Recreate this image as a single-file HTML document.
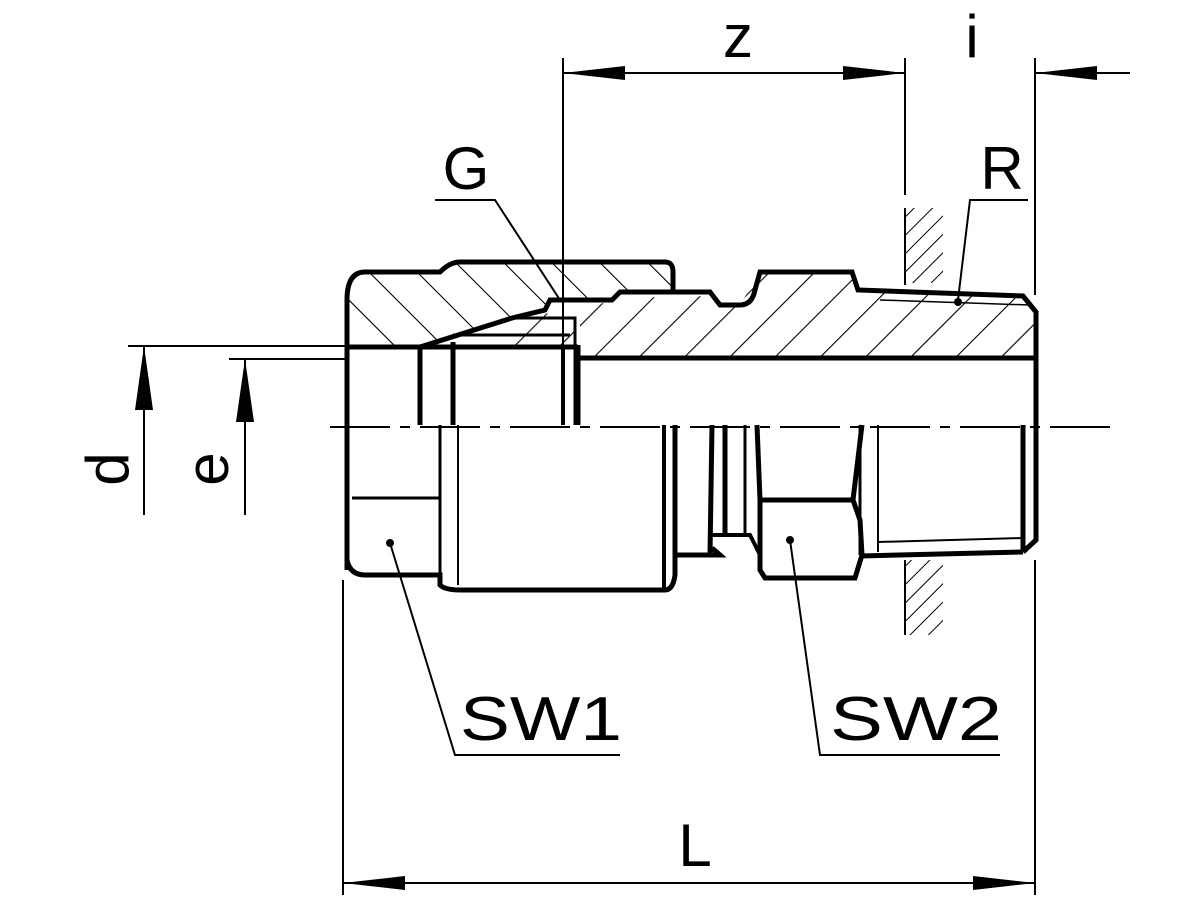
<!DOCTYPE html>
<html><head><style>body{margin:0;background:#fff}svg{display:block}text{font-family:"Liberation Sans",sans-serif;fill:#000}</style></head>
<body>
<svg width="1200" height="900" viewBox="0 0 1200 900" xmlns="http://www.w3.org/2000/svg">
<defs>
<pattern id="h" width="32" height="32" patternUnits="userSpaceOnUse" patternTransform="rotate(45)">
<line x1="0" y1="0" x2="0" y2="32" stroke="#000" stroke-width="2.2"/></pattern>
<pattern id="h2" width="34" height="34" patternUnits="userSpaceOnUse" patternTransform="rotate(-45)">
<line x1="0" y1="0" x2="0" y2="34" stroke="#000" stroke-width="2.2"/></pattern>
<pattern id="w" width="13" height="13" patternUnits="userSpaceOnUse" patternTransform="rotate(45)">
<line x1="0" y1="0" x2="0" y2="13" stroke="#000" stroke-width="2"/></pattern>
</defs>
<g stroke="#000" fill="none">
<path d="M347,300 Q347,272 365,272 L440,272 L455,262 L665,262 Q673,262 673,272 L673,292 L620,292 L612,300 L550,300 L545,310 L512,318 L420,347 L347,347 Z" fill="url(#h2)" stroke="none"/>
<path d="M512,318 L575,310 L575,347 L490,347 Z" fill="url(#h)" stroke="none"/>
<path d="M580,310 L620,298 L710,296 L720,305 L740,305 L760,272 L852,272 L858,290 L1023,296 L1036,312 L1036,358 L580,358 Z" fill="url(#h)" stroke="none"/>
<path d="M347,570 L347,300 Q347,272 365,272 L440,272 Q450,262 460,262 L665,262 Q673,262 673,272 L673,292" stroke-width="5"/>
<path d="M347,347 L420,347 L512,318 L545,310 L550,300 L612,300 L620,292 L710,292 L720,305 L740,305 Q752,305 755,290 L760,272 L852,272 L858,290 L1023,296 L1036,312 L1036,540 L1023,552" stroke-width="5"/>
<line x1="347" y1="347" x2="578" y2="347" stroke-width="5"/>
<line x1="575" y1="358" x2="1036" y2="358" stroke-width="5"/>
<path d="M512,318 L575,318 L575,347" stroke-width="3"/>
<line x1="420" y1="347" x2="420" y2="425" stroke-width="5"/>
<line x1="453" y1="342" x2="453" y2="425" stroke-width="5"/>
<line x1="563" y1="347" x2="563" y2="425" stroke-width="4"/>
<line x1="577" y1="345" x2="577" y2="425" stroke-width="7"/>
<line x1="453" y1="335" x2="570" y2="335" stroke-width="3"/>
<path d="M347,425 L347,560 Q350,575 365,575 L440,575 L440,585 Q445,590 460,590 L665,590 Q673,590 675,575 L675,425" stroke-width="5"/>
<line x1="352" y1="498" x2="440" y2="498" stroke-width="3"/>
<line x1="440" y1="425" x2="440" y2="585" stroke-width="3"/>
<line x1="458" y1="425" x2="458" y2="585" stroke-width="2"/>
<line x1="664" y1="425" x2="664" y2="588" stroke-width="4"/>
<path d="M675,425 L675,555 L710,555 L712,425 M712,548 L720,555 L712,555" stroke-width="5"/>
<line x1="725" y1="425" x2="725" y2="535" stroke-width="5"/>
<line x1="745" y1="425" x2="745" y2="535" stroke-width="3"/>
<path d="M712,535 L750,535 L760,555" stroke-width="4"/>
<path d="M757,425 L760,500 L760,570 L765,578 L855,578 L862,555 L860,520 L853,500 L862,425" stroke-width="5"/>
<line x1="760" y1="500" x2="853" y2="500" stroke-width="5"/>
<line x1="860" y1="425" x2="860" y2="555" stroke-width="3"/>
<line x1="878" y1="425" x2="878" y2="552" stroke-width="2"/>
<path d="M860,556 L1023,552" stroke-width="5"/>
<path d="M878,542 L1023,538" stroke-width="2"/>
<line x1="1023" y1="425" x2="1023" y2="552" stroke-width="5"/>
<path d="M880,300 L1030,305" stroke-width="1.5"/>
<line x1="330" y1="427" x2="1110" y2="427" stroke-width="2" stroke-dasharray="60,10,10,10"/>
<line x1="905" y1="208" x2="905" y2="285" stroke-width="2"/>
<rect x="905" y="208" width="38" height="75" fill="url(#w)" stroke="none"/>
<line x1="905" y1="560" x2="905" y2="635" stroke-width="2"/>
<rect x="905" y="560" width="38" height="75" fill="url(#w)" stroke="none"/>
<g stroke-width="2">
<line x1="563" y1="58" x2="563" y2="345"/>
<line x1="905" y1="58" x2="905" y2="195"/>
<line x1="1035" y1="58" x2="1035" y2="295"/>
<line x1="563" y1="73" x2="905" y2="73"/>
<line x1="1035" y1="73" x2="1130" y2="73"/>
<line x1="343" y1="580" x2="343" y2="895"/>
<line x1="1035" y1="560" x2="1035" y2="895"/>
<line x1="343" y1="883" x2="1035" y2="883"/>
<line x1="128" y1="346" x2="345" y2="346"/>
<line x1="229" y1="359" x2="345" y2="359"/>
<line x1="144" y1="346" x2="144" y2="515"/>
<line x1="245" y1="359" x2="245" y2="515"/>
<path d="M435,200 L495,200 L560,300"/>
<path d="M1028,200 L970,200 L958,300"/>
<path d="M390,543 L455,755 L620,755"/>
<path d="M790,540 L820,755 L1000,755"/>
</g>
</g>
<g fill="#000">
<path d="M563,73 L625,66 L625,80Z"/><path d="M905,73 L843,66 L843,80Z"/>
<path d="M1035,73 L1097,66 L1097,80Z"/>
<path d="M343,883 L405,876 L405,890Z"/><path d="M1035,883 L973,876 L973,890Z"/>
<path d="M144,346 L135,410 L153,410Z"/><path d="M245,359 L236,422 L254,422Z"/>
<circle cx="390" cy="543" r="4"/><circle cx="790" cy="540" r="4"/><circle cx="958" cy="302" r="4"/>
</g>
<text x="738" y="57" font-size="60" text-anchor="middle">z</text>
<text x="972" y="57" font-size="60" text-anchor="middle">i</text>
<text x="466" y="189" font-size="60" text-anchor="middle">G</text>
<text x="1002" y="189" font-size="60" text-anchor="middle">R</text>
<text x="460" y="740" font-size="62" textLength="162" lengthAdjust="spacingAndGlyphs">SW1</text>
<text x="830" y="740" font-size="62" textLength="172" lengthAdjust="spacingAndGlyphs">SW2</text>
<text x="695" y="866" font-size="60" text-anchor="middle">L</text>
<text transform="translate(128,469) rotate(-90)" font-size="60" text-anchor="middle">d</text>
<text transform="translate(228,469) rotate(-90)" font-size="60" text-anchor="middle">e</text>
</svg>
</body></html>
